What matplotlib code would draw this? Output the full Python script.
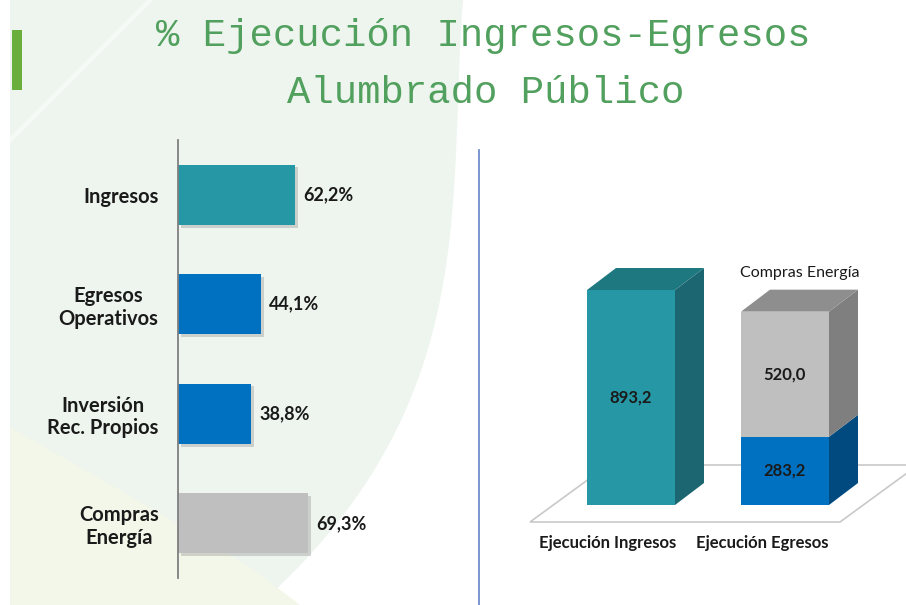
import matplotlib
matplotlib.use("Agg")
import matplotlib.pyplot as plt
import numpy as np
from matplotlib.patches import Polygon, Rectangle
import matplotlib.patheffects as pe

# ---------------- data ----------------
title_line1 = "% Ejecución Ingresos-Egresos"
title_line2 = "Alumbrado Público"

left_categories = ["Ingresos", "Egresos\nOperativos", "Inversión\nRec. Propios", "Compras\nEnergía"]
left_values = [62.2, 44.1, 38.8, 69.3]
left_colors = ["#2697a4", "#0070c0", "#0070c0", "#bfbfbf"]

right_categories = ["Ejecución Ingresos", "Ejecución Egresos"]
ingresos_total = [893.2]
egresos_operativos = [283.2]
compras_energia = [520.0]
compras_label = "Compras Energía"

W, H = 906, 605
fig = plt.figure(figsize=(W / 100, H / 100), dpi=100)
fig.patch.set_facecolor("white")

def fx(x):
    return x / W

def fy(y):
    return 1 - y / H

# ---------------- background ----------------
bg = fig.add_axes([0, 0, 1, 1], zorder=-10)
bg.set_xlim(0, W)
bg.set_ylim(H, 0)
bg.axis("off")
# curved edge of the pale green panel
ey = np.array([0, 140, 300, 400, 500, 605])
ex = np.array([462, 460, 437, 407, 360, 257])
coef = np.polyfit(ey, ex, 3)
yy = np.linspace(0, 605, 80)
xx = np.polyval(coef, yy)
panel = [(10, 0)] + list(zip(xx, yy)) + [(10, 605)]
bg.add_patch(Polygon(panel, closed=True, facecolor="#edf5ee", edgecolor="none"))
# yellowish lower-left tint
bg.add_patch(Polygon([(10, 427), (120, 490), (250, 567), (300, 605), (10, 605)],
                     closed=True, facecolor="#f3f7e9", edgecolor="none"))
# faint light streak
bg.plot([10, 150], [140, 0], color="white", lw=3, alpha=0.5)
# green accent bar
bg.add_patch(Rectangle((12, 30), 10, 60, facecolor="#6aae3c", edgecolor="none"))
# divider line
bg.plot([479, 479], [150, 605], color="#6f8fcc", lw=1.3)

# ---------------- title ----------------
title_kw = dict(ha="center", va="baseline", color="#52a05e", fontsize=28,
                family="Liberation Mono")
fig.text(fx(483), fy(46), title_line1, **title_kw)
fig.text(fx(486), fy(103), title_line2, **title_kw)

# ---------------- left chart ----------------
ax1 = fig.add_axes([fx(178), fy(578), (460 - 178) / W, (578 - 140) / H])
ax1.patch.set_alpha(0)
ypos = np.arange(len(left_values))
shadow = [pe.SimplePatchShadow(offset=(2, -2), shadow_rgbFace="#999999", alpha=0.4), pe.Normal()]
bars = ax1.barh(ypos, left_values, height=0.55, color=left_colors, edgecolor="none")
for b in bars:
    b.set_path_effects(shadow)
ax1.set_xlim(0, 150)
ax1.set_ylim(3.5, -0.5)
for s in ["top", "right", "bottom"]:
    ax1.spines[s].set_visible(False)
ax1.spines["left"].set_color("#7f7f7f")
ax1.spines["left"].set_linewidth(1.3)
ax1.set_xticks([])
ax1.set_yticks(ypos)
ax1.set_yticklabels(left_categories, multialignment="center", family="Lato",
                    fontweight="bold", fontsize=14.5, color="#1a1a1a", linespacing=1.15)
ax1.tick_params(axis="y", length=0, pad=14)
for i, v in enumerate(left_values):
    ax1.annotate(f"{v:.1f}".replace(".", ",") + "%", (v, i), xytext=(6, 0),
                 textcoords="offset points", va="center", ha="left",
                 family="Lato", fontweight="bold", fontsize=13, color="#1a1a1a")

# ---------------- right chart (3D-style bars) ----------------
ax2 = fig.add_axes([fx(480), fy(560), (906 - 480) / W, (560 - 250) / H])
ax2.axis("off")
px_per_unit = 0.2407
ax2.set_ylim(-55 / px_per_unit, 255 / px_per_unit)
ax2.set_xlim(-151 / 154, 1 + 121 / 154)

def off(dx_px, dy_px):
    t = ax2.transData
    inv = t.inverted()
    p0 = t.transform((0, 0))
    a = inv.transform(p0)
    b = inv.transform(p0 + np.array([dx_px, dy_px]))
    return b - a

xpos = np.arange(len(right_categories))
bw = 88 / 154
ddx, ddy = off(29, 22)

# floor
fl_dx, fl_dy = off(78, 57)
fy0 = off(0, -17)[1]
left_pad = off(57, 0)[0]
right_pad = off(11, 0)[0]
x_a = xpos[0] - bw / 2 - left_pad
x_b = xpos[-1] + bw / 2 + right_pad
ax2.add_patch(Polygon([(x_a, fy0), (x_b, fy0), (x_b + fl_dx, fy0 + fl_dy), (x_a + fl_dx, fy0 + fl_dy)],
                      closed=True, facecolor="white", edgecolor="#c9c9c9", lw=1.2, clip_on=False, zorder=1))

def bar3d(x, bottom, height, front, side, top=None):
    xl, xr = x - bw / 2, x + bw / 2
    y0, y1 = bottom, bottom + height
    ax2.bar([x], [height], bottom=[bottom], width=bw, color=front, edgecolor="none", zorder=3)
    ax2.add_patch(Polygon([(xr, y0), (xr + ddx, y0 + ddy), (xr + ddx, y1 + ddy), (xr, y1)],
                          closed=True, facecolor=side, edgecolor="none", zorder=3))
    if top is not None:
        ax2.add_patch(Polygon([(xl, y1), (xl + ddx, y1 + ddy), (xr + ddx, y1 + ddy), (xr, y1)],
                              closed=True, facecolor=top, edgecolor="none", zorder=3))

lab_kw = dict(ha="center", va="center", family="Lato", fontweight="bold", fontsize=12, color="#1a1a1a", zorder=5)

# Ejecución Ingresos
bar3d(xpos[0], 0, ingresos_total[0], "#2697a4", "#1b6670", "#1e7880")
ax2.text(xpos[0], ingresos_total[0] / 2, f"{ingresos_total[0]:.1f}".replace(".", ","), **lab_kw)

# Ejecución Egresos (stacked)
bar3d(xpos[1], 0, egresos_operativos[0], "#0070c0", "#004a80")
bar3d(xpos[1], egresos_operativos[0], compras_energia[0], "#bfbfbf", "#7f7f7f", "#8e8e8e")
ax2.text(xpos[1], egresos_operativos[0] / 2, f"{egresos_operativos[0]:.1f}".replace(".", ","), **lab_kw)
ax2.text(xpos[1], egresos_operativos[0] + compras_energia[0] / 2,
         f"{compras_energia[0]:.1f}".replace(".", ","), **lab_kw)
top_eg = egresos_operativos[0] + compras_energia[0]
ax2.annotate(compras_label, (xpos[1], top_eg), xytext=(15 * 0.72, 39 * 0.72), textcoords="offset points",
             ha="center", va="center", family="Lato", fontsize=11.5, color="#1a1a1a")

for i, c in enumerate(right_categories):
    ax2.annotate(c, (xpos[i], 0), xytext=(-23 * 0.72, -38 * 0.72), textcoords="offset points",
                 ha="center", va="center", family="Lato", fontweight="bold", fontsize=12,
                 color="#1a1a1a", annotation_clip=False)

fig.savefig("out.png", dpi=100)
